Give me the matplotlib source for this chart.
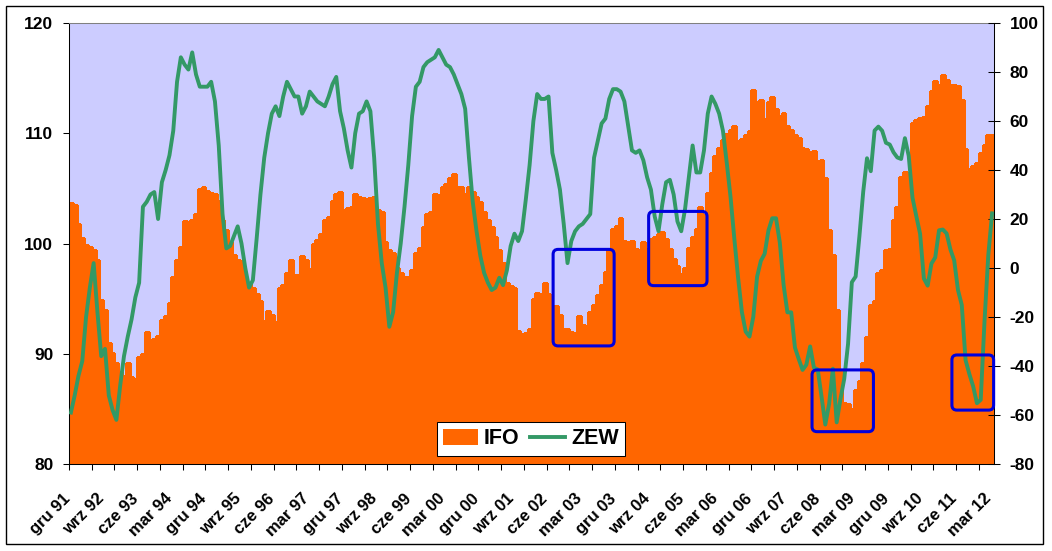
import numpy as np
import matplotlib
matplotlib.use("Agg")
import matplotlib.pyplot as plt
from matplotlib.patches import FancyBboxPatch, Rectangle, Patch
from matplotlib.lines import Line2D

plt.rcParams["font.family"] = ["Liberation Sans", "DejaVu Sans"]
plt.rcParams["axes.unicode_minus"] = False

# monthly values, Dec 1991 .. Mar 2012
ifo = [
    103.7, 103.5, 101.8, 100.5, 99.9, 99.7, 99.4, 98.5, 94.9, 94.0, 91.0, 90.1,
    89.2, 88.3, 88.0, 89.2, 87.9, 87.7, 89.7, 90.0, 92.0, 91.1, 91.3, 91.6,
    93.1, 93.4, 94.6, 97.0, 98.5, 99.7, 102.0, 100.9, 102.1, 102.7, 104.9, 105.1,
    104.8, 104.6, 104.5, 103.9, 102.1,
    101.2, 100.1, 99.0, 98.5, 98.4, 96.9, 96.3, 96.0, 95.4, 94.8,
    93.0, 93.9, 93.5, 92.9, 96.0, 96.2, 97.3, 98.5, 97.1, 97.1,
    98.9, 98.5, 97.7, 100.0, 100.3, 100.9, 102.1, 102.4, 103.9, 104.5,
    104.7, 103.0, 103.2, 103.3, 104.5, 104.2, 104.1, 103.9, 104.1, 104.2,
    103.0, 102.9, 100.1, 99.4, 99.1, 97.8, 97.3, 97.0, 97.0, 97.6,
    99.1, 99.6, 101.5, 102.7, 102.9, 104.5, 104.4, 105.1, 105.4, 105.9,
    106.3, 105.1, 105.1, 104.5, 105.1, 104.7, 104.2, 103.8, 102.9, 102.1,
    101.5, 100.6, 99.4, 98.2, 96.4, 96.1, 96.0, 92.1, 91.8, 91.9,
    92.2,
    95.0, 95.5, 95.4, 96.4, 95.4, 94.1, 94.3, 93.5, 92.2, 92.2,
    92.0, 91.9, 93.4, 92.6, 92.3, 93.8, 94.4, 95.3, 96.2, 97.4,
    99.5, 101.3, 101.6, 102.3, 100.2, 100.1, 100.2, 99.5, 99.2, 100.1,
    99.5, 100.4, 100.6, 100.9, 101.0, 100.4, 99.5, 98.6, 98.0, 97.2,
    97.8, 99.6, 100.6, 101.3, 103.3, 102.6, 104.6, 106.4, 107.9, 108.7,
    109.4, 109.9, 110.3, 110.7, 109.3, 109.5, 109.8, 110.2, 113.9, 112.8,
    113.0, 111.3, 112.8, 113.3, 112.2, 111.6, 111.8, 110.7, 110.3, 109.8,
    109.6, 108.7, 108.6, 108.3, 108.4, 107.5, 107.6, 105.9, 101.2, 99.0,
    94.0, 88.5,
    85.5, 85.4, 85.0, 86.7, 87.5, 89.2, 91.5, 94.4, 94.8, 97.3,
    97.6, 99.4, 99.5, 102.1, 103.3, 106.0, 106.5, 106.3, 110.9, 111.2,
    111.4, 111.5, 112.5, 113.8, 114.7, 114.4, 115.3, 114.8, 114.4, 114.4,
    114.3, 113.0, 108.6, 106.8, 107.0, 107.3, 108.2, 108.9, 109.8, 109.8,
]

zew = [
    -59, -52, -44, -38, -20, -8, 2, -18, -36, -33, -52, -58, -62, -48, -36, -28, -21, -12, -6, 25,
    27, 30, 31, 20, 35, 40, 46, 56, 76, 86, 83, 81, 88, 79, 74, 74, 74, 76, 68, 50, 22,
    8, 9, 13, 17, 10, 0, -8, -5, 12, 30,
    45, 55, 63, 66, 62, 70, 76, 73, 70, 70,
    63, 66, 72, 70, 68, 67, 66, 70, 75, 78,
    64, 57, 48, 41, 55, 63, 64, 68, 64, 45,
    18, 2, -8, -24, -18, -2, 10, 25, 42, 62,
    74, 76, 82, 84, 85, 86, 89, 86, 83, 82,
    79, 75, 71, 65, 45, 27, 15, 5, -2, -6,
    -9, -8, -4, -7, -1, 9, 14, 11, 15, 28,
    42,
    60, 71, 69, 69, 70, 47, 40, 32, 18, 2,
    11, 15, 17, 18, 20, 22, 45, 52, 59, 61,
    69, 73, 73, 72, 68, 58, 48, 47, 48, 44,
    37, 32, 21, 15, 26, 35, 36, 30, 19, 15,
    24, 37, 50, 39, 39, 48, 63, 70, 67, 63,
    56, 43, 29, 12, -4, -18, -26, -28, -20,
    -3.6, 2.9, 5.8, 15.3, 20.3, 20.3, 10.4, -6.9, -18.1, -18.1, -32.5, -37.2,
    -41.6, -39.5, -32.0, -40.7, -41.4, -52.4, -63.9, -55.5, -41.1, -63.0, -53.5, -45.2,
    -31.0, -5.8, -3.5, 13.0, 31.1, 44.8, 39.5, 56.1, 57.7, 56.0, 51.1, 50.4,
    47.2, 45.1, 44.5, 53.0, 45.8, 28.7, 21.2, 14.0, -4.3, -7.2, 1.8, 4.3,
    15.4, 15.7, 14.1, 7.6, 3.1, -9.0, -15.1, -37.6, -43.3, -48.3, -55.2, -53.8,
    -21.6, 5.4, 22.3,
]

xlabels = ["gru 91", "wrz 92", "cze 93", "mar 94", "gru 94", "wrz 95", "cze 96",
           "mar 97", "gru 97", "wrz 98", "cze 99", "mar 00", "gru 00", "wrz 01",
           "cze 02", "mar 03", "gru 03", "wrz 04", "cze 05", "mar 06", "gru 06",
           "wrz 07", "cze 08", "mar 09", "gru 09", "wrz 10", "cze 11", "mar 12"]
label_step, tick_step = 9, 6

# highlighted windows: month from, month to, ZEW low, ZEW high
boxes = [(127.2, 143.3, -31.8, 7.6), (152.4, 167.8, -7.2, 23.1),
         (195.5, 211.7, -66.8, -41.6), (232.4, 243.4, -58.0, -35.5)]

ORANGE, GREEN, LAV, BLUE = "#FF6600", "#339966", "#CCCCFF", "#0000DD"

n = len(ifo); x = np.arange(n)
W, H = 1052, 551
L, B, AW, AH = 69, 87, 925, 441
fig = plt.figure(figsize=(W/100, H/100), dpi=100)
fig.patches.append(Rectangle((6/W, 7/H), 1037/W, 538/H, transform=fig.transFigure,
                             fill=False, ec="black", lw=1.0, figure=fig))

ax = fig.add_axes([L/W, B/H, AW/W, AH/H])
ax.set_facecolor(LAV)
ax.bar(x, ifo, width=1.0, color=ORANGE, edgecolor=ORANGE, linewidth=1.0, antialiased=False)
ax.set_xlim(-0.5, n-0.5); ax.set_ylim(80, 120)
ax.set_yticks(range(80, 121, 10))
ax.set_xticks(np.arange(0, n, label_step))
ax.set_xticklabels(xlabels)
ax.set_xticks(np.arange(-0.5, n, tick_step), minor=True)
ax.tick_params(axis="y", direction="out", length=4.3, width=0.75, pad=7, labelsize=12.5)
ax.tick_params(axis="x", which="major", length=0, pad=25.5, labelsize=12)
ax.tick_params(axis="x", which="minor", direction="out", length=4.3, width=0.75)
for t in ax.get_xticklabels():
    t.set_rotation(45); t.set_ha("right"); t.set_va("baseline")
    t.set_rotation_mode("anchor"); t.set_fontweight("bold")
for t in ax.get_yticklabels(): t.set_fontweight("bold")
ax.spines["top"].set_color("#808080")
ax.spines["right"].set_visible(False)
for s in ["left", "bottom", "top"]: ax.spines[s].set_linewidth(0.75)

ax2 = ax.twinx()
ax2.plot(x, zew, color=GREEN, lw=2.8, solid_joinstyle="round", zorder=3)
ax2.set_ylim(-80, 100); ax2.set_yticks(range(-80, 101, 20))
ax2.tick_params(axis="y", direction="inout", length=8.4, width=0.75, pad=7.2, labelsize=12.5)
for t in ax2.get_yticklabels(): t.set_fontweight("bold")
for s in ["left", "bottom", "top"]: ax2.spines[s].set_visible(False)
ax2.spines["right"].set_linewidth(0.75)

# rounded highlight boxes, ~5 px corner radius in both directions
sx, sy = AW/n, AH/180
r = 5/sx
for x0, x1, y0, y1 in boxes:
    ax2.add_patch(FancyBboxPatch((x0, y0), x1-x0, y1-y0,
                                 boxstyle=f"round,pad=0,rounding_size={r}",
                                 mutation_aspect=sx/sy, fill=False, ec=BLUE,
                                 lw=2.2, zorder=5, clip_on=False))

handles = [Patch(facecolor=ORANGE, edgecolor="none", label="IFO"),
           Line2D([], [], color=GREEN, lw=2.8, label="ZEW")]
leg = ax2.legend(handles=handles, loc="center", bbox_to_anchor=(0.4995, 0.0567), ncol=2,
                 fancybox=False, framealpha=1, edgecolor="black",
                 prop=dict(size=15.5, weight="bold"), handlelength=1.6, handleheight=0.8,
                 handletextpad=0.3, columnspacing=0.5, borderpad=0.3, borderaxespad=0)
leg.get_frame().set_linewidth(0.75)
leg.set_zorder(10)

fig.savefig("out.png", dpi=100)
